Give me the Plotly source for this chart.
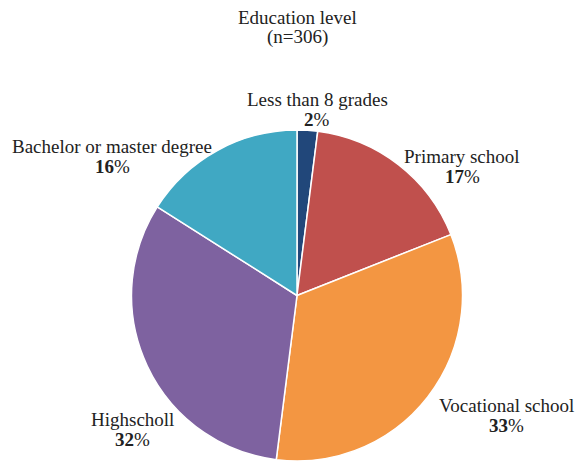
import plotly.graph_objects as go

categories = ["Less than 8 grades", "Primary school", "Vocational school", "Highscholl", "Bachelor or master degree"]
percent = [2, 17, 33, 32, 16]
colors = ["#21477A", "#C0504D", "#F39642", "#7E62A0", "#40A8C3"]

# label anchor positions (center x, first-line baseline y) in screen pixels
label_px = [(317, 106), (462, 163), (506, 412), (132, 426), (112, 153)]
LINE_GAP = 19.5

W, H = 578, 461
FONT = "Liberation Serif, Times New Roman, serif"
FS = 19

def px_to_paper(x, y):
    return x / W, 1 - y / H

cx, cy, r = 297, 296, 166
fig = go.Figure(go.Pie(
    labels=categories,
    values=percent,
    sort=False,
    direction="clockwise",
    rotation=0,
    marker=dict(colors=colors, line=dict(color="white", width=1.5)),
    textinfo="none",
    hoverinfo="label+percent",
    showlegend=False,
    domain=dict(x=[(cx - r) / W, (cx + r) / W],
                y=[max(0, 1 - (cy + r) / H), 1 - (cy - r) / H]),
))

def add_line(text, x, baseline):
    px, py = px_to_paper(x, baseline - 0.34 * FS)
    fig.add_annotation(
        x=px, y=py, xref="paper", yref="paper", text=text, showarrow=False,
        font=dict(family=FONT, size=FS, color="#222"),
        xanchor="center", yanchor="middle",
    )

for name, v, (x, b) in zip(categories, percent, label_px):
    add_line(name, x, b)
    add_line(f"<b>{v}</b>%", x, b + LINE_GAP)

add_line("Education level", 297, 24)
add_line("(n=306)", 297, 24 + LINE_GAP)

fig.update_layout(
    width=W, height=H,
    margin=dict(l=0, r=0, t=0, b=0),
    paper_bgcolor="white", plot_bgcolor="white",
)
fig.write_html("out.html",
               config={"displayModeBar": False},
               post_script="document.body.style.margin='0';document.body.style.overflow='hidden';")
